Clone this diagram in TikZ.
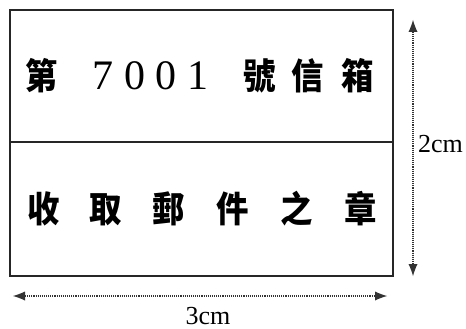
\documentclass[tikz,border=0pt]{standalone}
\usepackage{fontspec}
\setmainfont{Liberation Serif}
\newfontfamily\cjk[FakeStretch=0.9]{Noto Sans CJK TC}
\usetikzlibrary{arrows.meta}
\newcommand{\gl}[1]{\makebox[0pt]{#1}}
\begin{document}
\begin{tikzpicture}[x=1pt,y=-1pt,
  boxline/.style={draw=black!85,line width=1.4pt},
  tipstyle/.style={},
  dimline/.style={draw=black!80,line width=1.1pt,densely dotted,
    {Latex[length=12pt,width=9pt,line width=0pt]}-{Latex[length=12pt,width=9pt,line width=0pt]}},
  rowtext/.style={inner sep=0pt,anchor=center},
  dimlabel/.style={inner sep=0pt,font=\fontsize{26}{28}\selectfont}]
\useasboundingbox (0,0) rectangle (466,329);
\path[fill=white] (0,0) rectangle (466,329);
\draw[boxline] (10,10) rectangle (393,276);
\draw[boxline,line width=1.1pt] (10,142) -- (393,142);
\node[rowtext] (top) at (200,76) {\hbox{\cjk\bfseries\fontsize{36}{40}\selectfont
  \gl{第}\hspace{61pt}%
  \gl{\rmfamily\mdseries\fontsize{42}{44}\selectfont 7}\hspace{32pt}%
  \gl{\rmfamily\mdseries\fontsize{42}{44}\selectfont 0}\hspace{31pt}%
  \gl{\rmfamily\mdseries\fontsize{42}{44}\selectfont 0}\hspace{32pt}%
  \gl{\rmfamily\mdseries\fontsize{42}{44}\selectfont 1}\hspace{62pt}%
  \gl{號}\hspace{48pt}\gl{信}\hspace{50pt}\gl{箱}}};
\node[rowtext] (bottom) at (202.5,209) {\hbox{\cjk\bfseries\fontsize{36}{40}\selectfont
  \gl{收}\hspace{62pt}\gl{取}\hspace{63pt}\gl{郵}\hspace{64pt}%
  \gl{件}\hspace{64pt}\gl{之}\hspace{64pt}\gl{章}}};
\coordinate (vtop) at (413,20);
\coordinate (vbot) at (413,276);
\coordinate (hl) at (13,296);
\coordinate (hr) at (387,296);
\draw[dimline] (vtop) -- (vbot);
\draw[dimline] (hl) -- (hr);
\node[dimlabel,anchor=west] (h) at (418,144) {2cm};
\node[dimlabel] (w) at (208,316) {3cm};
\end{tikzpicture}
\end{document}
